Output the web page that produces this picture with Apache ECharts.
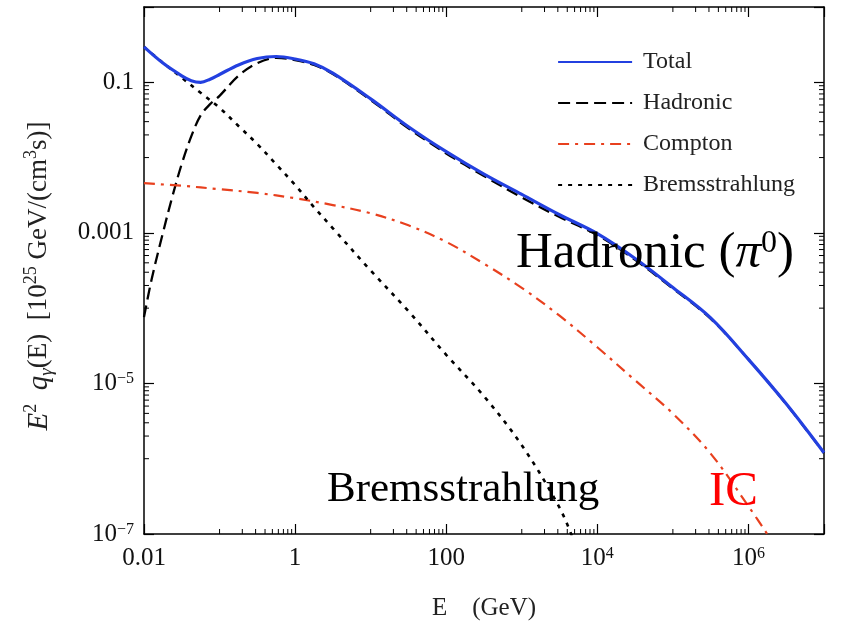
<!DOCTYPE html>
<html>
<head>
<meta charset="utf-8">
<script src="https://cdn.jsdelivr.net/npm/echarts@6/dist/echarts.min.js"></script>
<style>
html,body{margin:0;padding:0;background:#fff;}
#chart{width:846px;height:621px;}
</style>
</head>
<body>
<div id="chart"></div>
<script>
// ---- Data (E in GeV, E^2 q_gamma in 10^25 GeV/(cm^3 s)) ----
const totalE = [0.01, 0.0178, 0.0316, 0.0422, 0.0562, 0.075, 0.1, 0.178, 0.316, 0.562, 1, 1.78, 3.16, 10, 31.6, 100, 316, 1000, 3160, 1e4, 31600, 1e5, 316000, 1e6, 3.16e6, 1e7];
const totalQ = [0.295, 0.180, 0.122, 0.105, 0.100, 0.110, 0.127, 0.170, 0.207, 0.220, 0.204, 0.176, 0.132, 0.0603, 0.0257, 0.0120, 0.00603, 0.00324, 0.00174, 0.000977, 0.000457, 0.000188, 7.41e-5, 2.09e-5, 5.37e-6, 1.20e-6];

const hadronicE = [0.01, 0.0126, 0.0178, 0.0237, 0.0316, 0.0422, 0.0562, 0.075, 0.1, 0.178, 0.316, 0.562, 1, 1.78, 3.16, 10, 31.6, 100, 316, 1000, 3160, 1e4, 31600, 1e5, 316000, 1e6, 3.16e6, 1e7];
const hadronicQ = [7.6e-5, 2.4e-4, 1.0e-3, 3.02e-3, 0.00824, 0.0191, 0.0363, 0.0513, 0.0661, 0.122, 0.180, 0.211, 0.197, 0.170, 0.129, 0.0582, 0.0245, 0.01135, 0.00569, 0.00295, 0.00162, 9.33e-4, 4.37e-4, 1.82e-4, 7.24e-5, 2.09e-5, 5.33e-6, 1.19e-6];

const comptonE = [0.01, 0.0316, 0.1, 0.316, 1, 3.16, 10, 31.6, 100, 316, 1000, 3160, 1e4, 31600, 1e5, 316000, 1e6, 2e6];
const comptonQ = [0.00457, 0.00422, 0.00380, 0.00339, 0.00288, 0.00234, 0.00182, 0.00126, 7.59e-4, 3.89e-4, 1.86e-4, 7.94e-5, 3.02e-5, 1.10e-5, 3.98e-6, 1.17e-6, 2.34e-7, 8.3e-8];

const bremsE = [0.01, 0.0178, 0.0316, 0.0562, 0.1, 0.178, 0.316, 0.562, 1, 1.78, 3.16, 10, 31.6, 100, 316, 1000, 3160, 5000];
const bremsQ = [0.294, 0.182, 0.115, 0.0724, 0.0457, 0.0263, 0.0151, 0.00813, 0.00432, 0.00219, 0.00115, 3.16e-4, 9.12e-5, 2.40e-5, 6.76e-6, 1.51e-6, 2.24e-7, 7.6e-8];

const seriesNames = ['Total', 'Hadronic', 'Compton', 'Bremsstrahlung'];

// tick labels
const xTickLabels = {'-2': '0.01', '0': '1', '2': '100', '4': '10{sup|4}', '6': '10{sup|6}'};
const yTickLabels = {'-7': '10{sup|−7}', '-5': '10{sup|−5}', '-3': '0.001', '-1': '0.1'};
// minor ticks: decade below each major tick, multiples 1..9
const xMinorDecades = [0.1, 10, 1000, 100000];
const yMinorDecades = [1e-6, 1e-4, 1e-2];
const minorMultipliers = [1, 2, 3, 4, 5, 6, 7, 8, 9];

const X_MIN = 0.01, X_MAX = 1e7, Y_MIN = 1e-7, Y_MAX = 1;

function pairs(xs, ys) { return xs.map((x, i) => [x, ys[i]]); }

const xMinor = [];
xMinorDecades.forEach(d => minorMultipliers.forEach(m => xMinor.push(+(d * m).toPrecision(6))));
const yMinor = [];
yMinorDecades.forEach(d => minorMultipliers.forEach(m => yMinor.push(+(d * m).toPrecision(6))));

const FONT = 'Liberation Serif';
const BLUE = '#2340e0';
const RED = '#e8401e';

const chart = echarts.init(document.getElementById('chart'), null, {renderer: 'canvas'});

function expKey(v) { return String(Math.round(Math.log10(v))); }
function isDecade(v) { const e = Math.log10(v); return Math.abs(e - Math.round(e)) < 1e-6; }

const supRich = {
  sup: {fontSize: 16, fontFamily: FONT, color: '#111', verticalAlign: 'top', lineHeight: 16, padding: [0, 0, 0, 0]}
};

const option = {
  backgroundColor: '#fff',
  animation: false,
  grid: {left: 144, top: 7, right: 22, bottom: 87, containLabel: false, outerBoundsMode: 'none'},
  legend: {
    orient: 'vertical',
    left: 552,
    top: 45,
    itemWidth: 74,
    itemHeight: 24,
    itemGap: 17,
    data: [
      {name: 'Total', lineStyle: {width: 2.2}},
      {name: 'Hadronic'},
      {name: 'Compton'},
      {name: 'Bremsstrahlung'}
    ],
    itemStyle: {color: 'rgba(0,0,0,0)', borderColor: 'rgba(0,0,0,0)', borderWidth: 0, opacity: 0},
    textStyle: {fontFamily: FONT, fontSize: 24, color: '#222', padding: [0, 0, 0, 6]}
  },
  xAxis: [{
    type: 'log', logBase: 10, min: X_MIN, max: X_MAX, interval: 2,
    name: 'E    (GeV)', nameLocation: 'middle', nameGap: 62,
    nameTextStyle: {fontFamily: FONT, fontSize: 25, color: '#222'},
    axisLine: {show: true, lineStyle: {color: '#000', width: 1.5}},
    axisTick: {show: true, inside: true, length: 10, lineStyle: {color: '#000', width: 1.2}},
    minorTick: {show: false},
    splitLine: {show: false},
    axisLabel: {
      fontFamily: FONT, fontSize: 25, color: '#111', margin: 12, showMaxLabel: true, showMinLabel: true,
      formatter: function (v) { if (!isDecade(v)) return ''; return xTickLabels[expKey(v)] || ''; },
      rich: supRich
    }
  }, {
    type: 'log', logBase: 10, min: X_MIN, max: X_MAX, interval: 2, position: 'top',
    axisLine: {show: true, lineStyle: {color: '#000', width: 1.5}},
    axisTick: {show: true, inside: true, length: 10, lineStyle: {color: '#000', width: 1.2}},
    axisLabel: {show: false}, splitLine: {show: false}
  }],
  yAxis: [{
    type: 'log', logBase: 10, min: Y_MIN, max: Y_MAX, interval: 2,
    name: '{big|E}{sup|2}  {big|q}{sub|γ}(E)  [10{sup|25} GeV/(cm{sup|3}s)]',
    nameLocation: 'middle', nameGap: 88, nameRotate: 90,
    nameTextStyle: {
      fontFamily: FONT, fontSize: 27, color: '#222', lineHeight: 34, padding: [0, 11, 0, 0],
      rich: {
        big: {fontFamily: FONT, fontSize: 29, fontStyle: 'italic', color: '#222', lineHeight: 34},
        sup: {fontFamily: FONT, fontSize: 18, color: '#222', verticalAlign: 'top', lineHeight: 18},
        sub: {fontFamily: FONT, fontSize: 19, fontStyle: 'italic', color: '#222', verticalAlign: 'bottom', lineHeight: 19}
      }
    },
    axisLine: {show: true, lineStyle: {color: '#000', width: 1.5}},
    axisTick: {show: true, inside: true, length: 10, lineStyle: {color: '#000', width: 1.2}},
    minorTick: {show: false},
    splitLine: {show: false},
    axisLabel: {
      fontFamily: FONT, fontSize: 25, color: '#111', margin: 10,
      formatter: function (v) { if (!isDecade(v)) return ''; return yTickLabels[expKey(v)] || ''; },
      rich: supRich
    }
  }, {
    type: 'log', logBase: 10, min: Y_MIN, max: Y_MAX, interval: 2, position: 'right',
    axisLine: {show: true, lineStyle: {color: '#000', width: 1.5}},
    axisTick: {show: true, inside: true, length: 10, lineStyle: {color: '#000', width: 1.2}},
    axisLabel: {show: false}, splitLine: {show: false}
  }],
  series: [
    {
      name: 'Hadronic', type: 'line', data: pairs(hadronicE, hadronicQ), smooth: 0.35,
      showSymbol: false, symbol: 'none', z: 3,
      lineStyle: {color: '#000', width: 2.3, type: [12, 6]}, itemStyle: {color: '#000'}
    },
    {
      name: 'Compton', type: 'line', data: pairs(comptonE, comptonQ), smooth: 0.35,
      showSymbol: false, symbol: 'none', z: 3,
      lineStyle: {color: RED, width: 2.2, type: [11, 6, 3, 6]}, itemStyle: {color: RED}
    },
    {
      name: 'Bremsstrahlung', type: 'line', data: pairs(bremsE, bremsQ), smooth: 0.35,
      showSymbol: false, symbol: 'none', z: 3,
      lineStyle: {color: '#000', width: 2.6, type: [4, 6]}, itemStyle: {color: '#000'}
    },
    {
      name: 'Total', type: 'line', data: pairs(totalE, totalQ), smooth: 0.35,
      showSymbol: false, symbol: 'none', z: 4,
      lineStyle: {color: BLUE, width: 3.2}, itemStyle: {color: BLUE}
    },
    {
      name: 'xminor', type: 'custom', coordinateSystem: 'cartesian2d', xAxisIndex: 0, yAxisIndex: 0,
      data: xMinor.map(v => [v, Y_MIN]), silent: true, z: 5, clip: false,
      renderItem: function (params, api) {
        const v = api.value(0);
        const b = api.coord([v, Y_MIN]);
        const t = api.coord([v, Y_MAX]);
        const len = 5;
        return {type: 'group', children: [
          {type: 'line', shape: {x1: b[0], y1: b[1], x2: b[0], y2: b[1] - len}, style: {stroke: '#000', lineWidth: 1}},
          {type: 'line', shape: {x1: t[0], y1: t[1], x2: t[0], y2: t[1] + len}, style: {stroke: '#000', lineWidth: 1}}
        ]};
      }
    },
    {
      name: 'yminor', type: 'custom', coordinateSystem: 'cartesian2d', xAxisIndex: 0, yAxisIndex: 0,
      data: yMinor.map(v => [X_MIN, v]), silent: true, z: 5, clip: false,
      renderItem: function (params, api) {
        const v = api.value(1);
        const l = api.coord([X_MIN, v]);
        const r = api.coord([X_MAX, v]);
        const len = 5;
        return {type: 'group', children: [
          {type: 'line', shape: {x1: l[0], y1: l[1], x2: l[0] + len, y2: l[1]}, style: {stroke: '#000', lineWidth: 1}},
          {type: 'line', shape: {x1: r[0], y1: r[1], x2: r[0] - len, y2: r[1]}, style: {stroke: '#000', lineWidth: 1}}
        ]};
      }
    }
  ],
  graphic: [
    {
      type: 'text', left: 516, top: 228, z: 10,
      style: {
        text: 'Hadronic ({pi|π}{sup|0})',
        fontFamily: FONT, fontSize: 51, fill: '#000',
        rich: {
          pi: {fontFamily: FONT, fontSize: 51, fontStyle: 'italic', fill: '#000'},
          sup: {fontFamily: FONT, fontSize: 32, fill: '#000', verticalAlign: 'top', lineHeight: 30}
        }
      }
    },
    {
      type: 'text', left: 327, top: 468, z: 10,
      style: {text: 'Bremsstrahlung', fontFamily: FONT, fontSize: 43, fill: '#000'}
    },
    {
      type: 'text', left: 709, top: 468, z: 10,
      style: {text: 'IC', fontFamily: FONT, fontSize: 49, fill: '#ff0000'}
    }
  ]
};

chart.setOption(option);
</script>
</body>
</html>
